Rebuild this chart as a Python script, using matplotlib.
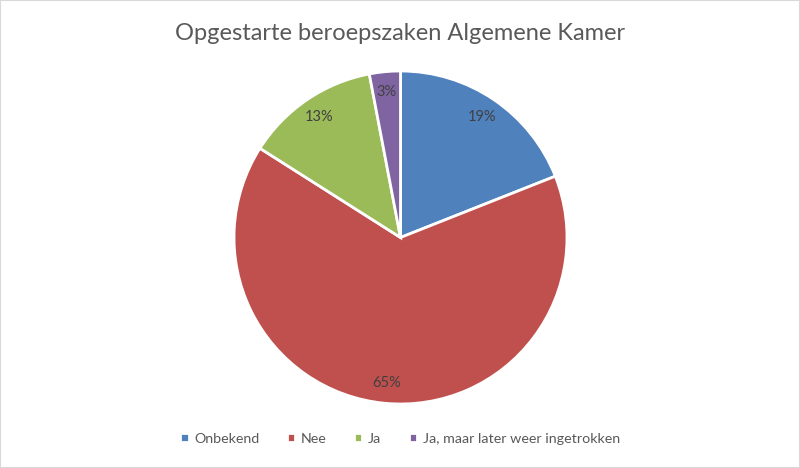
import matplotlib.pyplot as plt
from matplotlib.patches import Rectangle

categories = ['Onbekend', 'Nee', 'Ja', 'Ja, maar later weer ingetrokken']
values = [19, 65, 13, 3]
colors = ['#4F81BD', '#C0504D', '#9BBB59', '#8064A2']
title = 'Opgestarte beroepszaken Algemene Kamer'

plt.rcParams['font.family'] = ['Lato', 'DejaVu Sans']

fig = plt.figure(figsize=(8, 4.68), dpi=100)
ax = fig.add_axes([234 / 800, 64 / 468, 333 / 800, 333 / 468])

wedges, texts, autotexts = ax.pie(
    values, colors=colors, startangle=90, counterclock=False,
    autopct='%.0f%%', pctdistance=0.875,
    wedgeprops=dict(edgecolor='white', linewidth=2),
    textprops=dict(color='#404040', fontsize=10.5))
ax.set_xlim(-1.0, 1.0)
ax.set_ylim(-1.0, 1.0)
ax.set_aspect('equal')

fig.text(0.5, 1 - 33 / 468, title, ha='center', va='center',
         fontsize=17, color='#595959')

fig.legend(wedges, categories, loc='center', bbox_to_anchor=(0.5, 1 - 439 / 468),
           ncol=4, frameon=False, fontsize=10.3, labelcolor='#595959',
           handlelength=0.6, handleheight=0.6, handletextpad=0.4,
           columnspacing=1.9)

fig.patches.append(Rectangle((0, 0), 1, 1, transform=fig.transFigure,
                             fill=False, edgecolor='#D9D9D9', linewidth=1.5))

fig.savefig('out.png', dpi=100)
